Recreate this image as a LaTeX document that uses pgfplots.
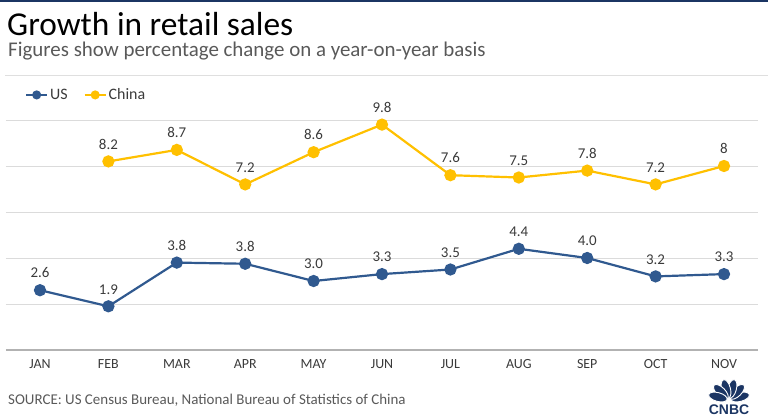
\documentclass[border=0pt]{standalone}
\usepackage{pgfplots}
\pgfplotsset{compat=1.18}
\usepackage{fontspec}
\setmainfont{Carlito}
\newfontfamily\logofont{Liberation Sans}
\definecolor{usblue}{HTML}{30598F}
\definecolor{cnyellow}{HTML}{FFC000}
\definecolor{navy}{HTML}{1B3563}
\definecolor{txtgray}{HTML}{595959}
\definecolor{lblgray}{HTML}{3A3A3A}

\begin{document}
\begin{tikzpicture}[x=1bp,y=1bp]
\useasboundingbox (0,0) rectangle (768,416);
\fill[navy] (0,414) rectangle (768,416);
\node[anchor=base west, inner sep=0] at (7,381) {\fontsize{33.5}{38}\selectfont Growth in retail sales};
\node[anchor=base west, inner sep=0, text=txtgray] at (8,360) {\fontsize{21}{25}\selectfont Figures show percentage change on a year-on-year basis};
\draw[gray!25, line width=0.8bp] (5,341) -- (768,341);
\node[anchor=base west, inner sep=0, text=txtgray] at (8,12) {\fontsize{15}{17}\selectfont SOURCE: US Census Bureau, National Bureau of Statistics of China};

% CNBC peacock
\begin{scope}[shift={(729,16)}]
  \foreach \a in {15,45,...,165}
    \filldraw[fill=navy, draw=white, line width=0.9bp, rotate=\a] (11.5,0) ellipse (9.5 and 4.4);
\end{scope}
\node[anchor=south, inner sep=0, text=navy] at (729,1.5) {\logofont\bfseries\fontsize{14}{14}\selectfont CNBC};

\begin{axis}[
    at={(5.8bp,66bp)}, anchor=south west,
    scale only axis, width=752.4bp, height=230bp,
    xmin=-0.5, xmax=10.5, ymin=0, ymax=10,
    clip=false,
    axis x line*=bottom, axis y line*=left,
    x axis line style={draw=gray!60, line width=1.6bp, -},
    y axis line style={draw=none},
    xtick={0,...,10},
    xticklabels={JAN,FEB,MAR,APR,MAY,JUN,JUL,AUG,SEP,OCT,NOV},
    ytick={2,4,6,8,10}, yticklabels={},
    major tick length=0,
    ymajorgrids,
    grid style={draw=gray!28, line width=0.8bp},
    xticklabel style={font=\fontsize{14}{16}\selectfont, text=lblgray, yshift=-6bp},
    /pgf/number format/assume math mode=true,
    nodes near coords,
    every node near coord/.append style={font=\fontsize{15}{18}\selectfont, text=lblgray, inner sep=1bp, yshift=10bp},
    legend style={at={(0.0215,1.109)}, anchor=west, draw=none, fill=none,
        legend columns=-1, font=\fontsize{16}{18}\selectfont, text=lblgray,
        /tikz/every even column/.append style={column sep=14bp}},
    legend image code/.code={\draw[mark repeat=2,mark phase=2,#1,mark size=3.5bp,line width=2bp]
        plot coordinates {(0bp,0bp) (10.5bp,0bp) (21bp,0bp)};},
  ]
  \addplot[usblue, line width=2.2bp, mark=*, mark size=5bp,
      every node near coord/.append style={/pgf/number format/fixed,
        /pgf/number format/fixed zerofill, /pgf/number format/precision=1}]
    coordinates {(0,2.6) (1,1.9) (2,3.8) (3,3.75) (4,3.0) (5,3.3) (6,3.5) (7,4.4) (8,4.0) (9,3.2) (10,3.3)};
  \addplot[cnyellow, line width=2.2bp, mark=*, mark size=5bp]
    coordinates {(1,8.2) (2,8.7) (3,7.2) (4,8.6) (5,9.8) (6,7.6) (7,7.5) (8,7.8) (9,7.2) (10,8)};
  \legend{US,China}
\end{axis}
\end{tikzpicture}
\end{document}
